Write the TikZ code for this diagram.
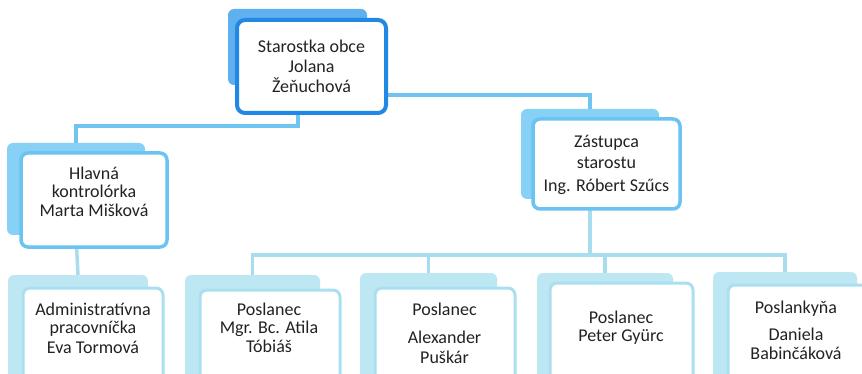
\documentclass[tikz,border=0pt]{standalone}
\usepackage{fontspec}
\setmainfont{Carlito}
\usetikzlibrary{calc}
\pgfdeclarelayer{bg}
\pgfsetlayers{bg,main}
\definecolor{topBorder}{HTML}{2189E3}
\definecolor{topBack}{HTML}{5FB0EE}
\definecolor{midBorder}{HTML}{6AC3F0}
\definecolor{midBack}{HTML}{86D1F5}
\definecolor{lowBorder}{HTML}{A9DFF1}
\definecolor{lowBack}{HTML}{BDE7F3}
\definecolor{connA}{HTML}{6FC5F0}
\definecolor{connB}{HTML}{A8DCEF}
\definecolor{txtc}{HTML}{222222}
\tikzset{
  box/.style={rectangle, anchor=north west, inner sep=0pt, outer sep=0pt},
  frA/.style={box, draw=topBorder, fill=white, line width=4pt, rounded corners=8pt},
  bkA/.style={box, fill=topBack, rounded corners=6pt},
  frB/.style={box, draw=midBorder, fill=white, line width=3.5pt, rounded corners=7pt},
  bkB/.style={box, fill=midBack, rounded corners=6pt},
  frC/.style={box, draw=lowBorder, fill=white, line width=3pt, rounded corners=7pt},
  bkC/.style={box, fill=lowBack, rounded corners=6pt},
  txt/.style={align=center, text=txtc, inner sep=0pt, font=\fontsize{18}{18}\selectfont},
  lnA/.style={draw=connA, line width=4pt},
  lnB/.style={draw=connB, line width=3.5pt},
}
\begin{document}
\begin{tikzpicture}[x=1pt,y=-1pt]
\useasboundingbox (0,0) rectangle (862,374);
\clip (0,0) rectangle (862,374);
% top box
\node[bkA, minimum width=139, minimum height=76] (topb) at (228,9) {};
\node[frA, minimum width=149, minimum height=93] (top) at (237,20) {};
\node[txt] (topt) at (311.5,66.5) {Starostka obce\\[2pt]Jolana\\[2pt]Žeňuchová};
% Hlavna
\node[bkB, minimum width=138, minimum height=92] (hkb) at (7,143) {};
\node[frB, minimum width=146, minimum height=94] (hk) at (21,153) {};
\node[txt] (hkt) at (94,192) {Hlavná\\kontrolórka\\[1pt]Marta Mišková};
% Zastupca
\node[bkB, minimum width=138, minimum height=90] (zsb) at (521,109) {};
\node[frB, minimum width=147, minimum height=90] (zs) at (533,119) {};
\node[txt] (zst) at (606.5,165) {Zástupca\\[3pt]starostu\\[5pt]Ing. Róbert Szűcs};
% bottom row
\node[bkC, minimum width=140, minimum height=110] (adb) at (8,275) {};
\node[frC, minimum width=140, minimum height=110] (ad) at (23,288) {};
\node[txt] (adt) at (93,328) {Administratívna\\pracovníčka\\[2pt]Eva Tormová};
\node[bkC, minimum width=135, minimum height=110] (mgb) at (185,275) {};
\node[frC, minimum width=140, minimum height=110] (mg) at (200,290) {};
\node[txt] (mgt) at (269,327.5) {Poslanec\\Mgr. Bc. Atila\\[1pt]Tóbiáš};
\node[bkC, minimum width=137, minimum height=110] (alb) at (360,273) {};
\node[frC, minimum width=140, minimum height=110] (al) at (375,288) {};
\node[txt] (alt) at (444.5,333) {Poslanec\\[10pt]Alexander\\[2pt]Puškár};
\node[bkC, minimum width=136, minimum height=110] (peb) at (537,273) {};
\node[frC, minimum width=143, minimum height=110] (pe) at (550,283) {};
\node[txt] (pet) at (621,328) {Poslanec\\Peter Gyürc};
\node[bkC, minimum width=144, minimum height=110] (dab) at (713,272) {};
\node[frC, minimum width=160, minimum height=110] (da) at (728,285) {};
\node[txt] (dat) at (796,330) {Poslankyňa\\[9pt]Daniela\\[1pt]Babinčáková};
\coordinate (bus) at (590,255);
\coordinate (hkbend) at (76,126);
\begin{pgfonlayer}{bg}
  \fill[white] (0,0) rectangle (862,374);
  \draw[lnA] (topb.south) |- (hkbend) -- (hkb.north);
  \draw[lnA] ($(top.south east)+(0,-18)$) -| (zsb.north);
  \draw[lnB] (hkb.south) -- (adb.north);
  \draw[lnB] (zsb.south) -- (bus);
  \draw[lnB] (mgb.north) -- (mgb.north |- bus) -- (dab.north |- bus) -- (dab.north);
  \draw[lnB] (alb.north) -- (alb.north |- bus);
  \draw[lnB] (peb.north) -- (peb.north |- bus);
\end{pgfonlayer}
\end{tikzpicture}
\end{document}
